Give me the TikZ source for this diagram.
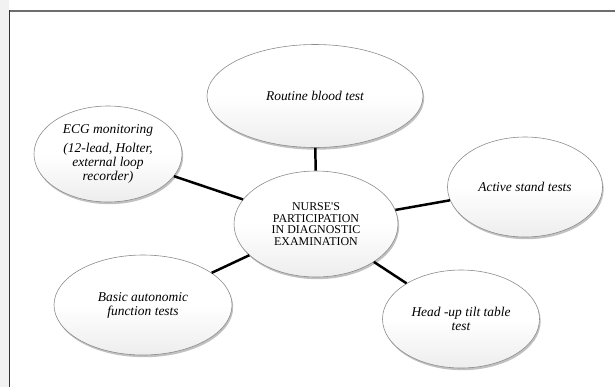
\documentclass[tikz,border=0pt]{standalone}
\usepackage{fontspec}
\setmainfont{Liberation Serif}
\usetikzlibrary{shapes.geometric,shadows}
\definecolor{framegray}{HTML}{6E6E6E}
\definecolor{rimgray}{HTML}{8C8C8C}
\tikzset{
  bubble/.style={ellipse, draw=rimgray, line width=0.6pt, inner sep=0pt,
    top color=white, bottom color=black!7, middle color=white,
    drop shadow={shadow xshift=1.2pt, shadow yshift=-2.2pt, opacity=0.35, fill=black!70},
    align=center, font=\itshape\fontsize{13.5}{14}\selectfont},
  hub/.style={bubble, font=\fontsize{12}{11.6}\selectfont},
  link/.style={line width=2.5pt, black}
}
\begin{document}
\begin{tikzpicture}[x=1bp, y=-1bp]
  \useasboundingbox (0,0) rectangle (615,387);
  % page edge and frame
  \fill[black!5] (0,0) rectangle (9,387);
  \draw[framegray, line width=2pt] (9,10.5) -- (615,10.5);
  \draw[black!80, line width=1pt] (9.5,10) -- (9.5,387);

  % topic bubbles
  \node[hub, minimum width=164bp, minimum height=106bp] (hub) at (316,224)
    {NURSE\textquotesingle S\\PARTICIPATION\\IN DIAGNOSTIC\\EXAMINATION};
  \node[bubble, minimum width=216bp, minimum height=103bp] (blood) at (315,96)
    {Routine blood test};
  \node[bubble, minimum width=148bp, minimum height=96bp] (ecg) at (108,154)
    {ECG monitoring\\[5pt](12-lead, Holter,\\external loop\\recorder)};
  \node[bubble, minimum width=155bp, minimum height=100bp] (stand) at (525,187)
    {Active stand tests};
  \node[bubble, minimum width=178bp, minimum height=100bp] (auto) at (143,305)
    {Basic autonomic\\function tests};
  \node[bubble, minimum width=157bp, minimum height=98bp] (tilt) at (461,319)
    {Head -up tilt table\\test};

  % spokes
  \draw[link] (hub) -- (blood);
  \draw[link] (hub) -- (ecg);
  \draw[link] (hub) -- (stand);
  \draw[link] (hub) -- (auto);
  \draw[link] (hub) -- (tilt);
\end{tikzpicture}
\end{document}
